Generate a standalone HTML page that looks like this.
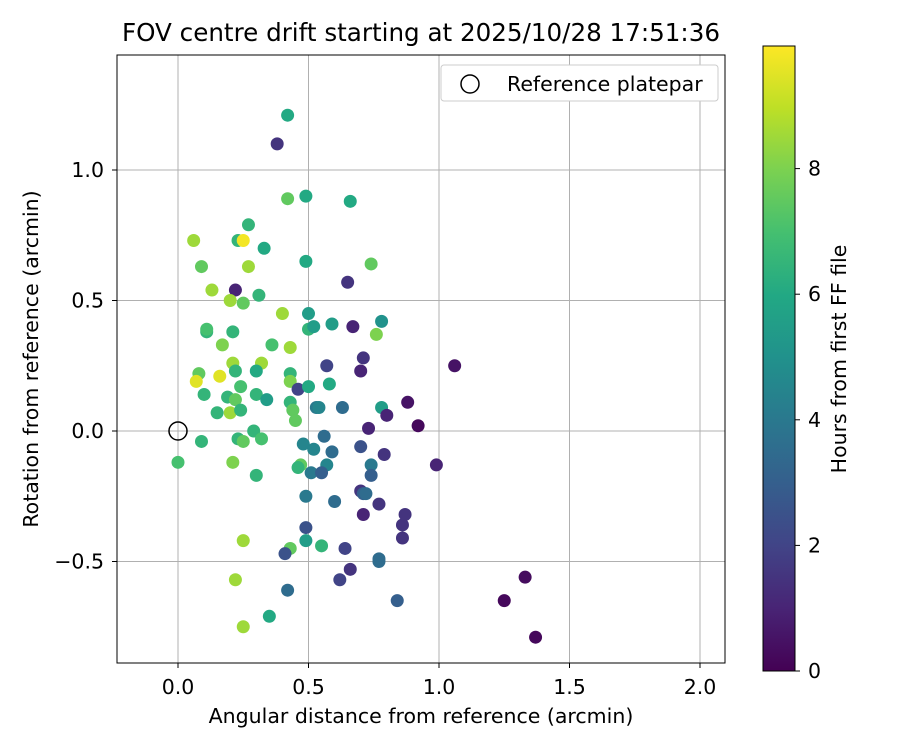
<!DOCTYPE html>
<html><head><meta charset="utf-8"><style>
body{margin:0;background:#fff;}
svg{font-family:"DejaVu Sans","Liberation Sans",sans-serif;}
</style></head><body>
<svg id="chart" width="900" height="750">
<defs>
<linearGradient id="vir" x1="0" y1="1" x2="0" y2="0">
<stop offset="0" stop-color="#440154"/><stop offset="0.1" stop-color="#482475"/><stop offset="0.2" stop-color="#414487"/><stop offset="0.3" stop-color="#355f8d"/><stop offset="0.4" stop-color="#2a788e"/><stop offset="0.5" stop-color="#21918c"/><stop offset="0.6" stop-color="#22a884"/><stop offset="0.7" stop-color="#44bf70"/><stop offset="0.8" stop-color="#7ad151"/><stop offset="0.9" stop-color="#bddf26"/><stop offset="1" stop-color="#fde725"/>
</linearGradient>
<clipPath id="pc"><rect x="117" y="55" width="608" height="608"/></clipPath>
</defs>
<text x="421" y="41" font-size="24.6" text-anchor="middle">FOV centre drift starting at 2025/10/28 17:51:36</text>
<g id="grid"></g>
<g id="pts" clip-path="url(#pc)"></g>
<rect x="117" y="55" width="608" height="608" fill="none" stroke="#000" stroke-width="1"/>
<g id="ticks"></g>
<text x="421" y="723" font-size="20.5" text-anchor="middle">Angular distance from reference (arcmin)</text>
<text transform="translate(38,359) rotate(-90)" font-size="20.5" text-anchor="middle">Rotation from reference (arcmin)</text>
<g>
<rect x="441" y="65" width="277" height="36" rx="3" fill="#fff" stroke="#ccc"/>
<circle cx="470" cy="84" r="9" fill="none" stroke="#000" stroke-width="1.5"/>
<text x="507" y="91" font-size="20.5">Reference platepar</text>
</g>
<rect x="763" y="46" width="32" height="625" fill="url(#vir)" stroke="#000" stroke-width="1"/>
<g id="cbticks"></g>
<text transform="translate(846,359) rotate(-90)" font-size="20.5" text-anchor="middle">Hours from first FF file</text>
</svg>
<script>
const xVals=[0.42,0.38,0.42,0.49,0.66,0.27,0.06,0.23,0.25,0.33,0.09,0.27,0.49,0.74,0.65,0.13,0.22,0.20,0.25,0.31,0.40,0.50,0.11,0.11,0.21,0.50,0.52,0.59,0.67,0.76,0.78,0.17,0.36,0.43,0.71,0.08,0.21,0.32,0.30,0.22,0.57,1.06,0.07,0.16,0.43,0.43,0.70,0.24,0.46,0.50,0.58,0.10,0.19,0.30,0.34,0.22,0.43,0.88,0.53,0.54,0.63,0.78,0.80,0.15,0.20,0.24,0.44,0.45,0.29,0.73,0.92,0.09,0.23,0.25,0.32,0.56,0.48,0.52,0.70,0.79,0.59,0.99,0.00,0.21,0.47,0.46,0.57,0.51,0.55,0.74,0.74,0.30,0.70,0.71,0.72,0.49,0.60,0.77,0.71,0.87,0.49,0.86,0.86,0.49,0.25,0.55,0.43,0.41,0.64,0.77,0.77,0.66,0.22,0.62,1.33,0.42,1.25,0.84,0.35,0.25,1.37];
const yVals=[1.21,1.10,0.89,0.90,0.88,0.79,0.73,0.73,0.73,0.70,0.63,0.63,0.65,0.64,0.57,0.54,0.54,0.50,0.49,0.52,0.45,0.45,0.38,0.39,0.38,0.39,0.40,0.41,0.40,0.37,0.42,0.33,0.33,0.32,0.28,0.22,0.26,0.26,0.23,0.23,0.25,0.25,0.19,0.21,0.22,0.19,0.23,0.17,0.16,0.17,0.18,0.14,0.13,0.14,0.12,0.12,0.11,0.11,0.09,0.09,0.09,0.09,0.06,0.07,0.07,0.08,0.08,0.04,0.00,0.01,0.02,-0.04,-0.03,-0.04,-0.03,-0.02,-0.05,-0.07,-0.06,-0.09,-0.08,-0.13,-0.12,-0.12,-0.13,-0.14,-0.13,-0.16,-0.16,-0.13,-0.17,-0.17,-0.23,-0.24,-0.24,-0.25,-0.27,-0.28,-0.32,-0.32,-0.37,-0.36,-0.41,-0.42,-0.42,-0.44,-0.45,-0.47,-0.45,-0.50,-0.49,-0.53,-0.57,-0.57,-0.56,-0.61,-0.65,-0.65,-0.71,-0.75,-0.79];
const hours=[6,1.5,7.5,6,6,6.5,8.5,6.5,9.8,6,7.5,8.5,6,7.5,1.5,8.5,1,8.5,7.5,6.5,8.5,5.5,6.5,7,6.5,6.5,5.5,5.5,1,8,5,8,7,8.5,1.5,7.5,8.5,8.5,6,6.5,2,0.5,9.5,9.5,6.5,8,1,7,2,6,6,6.5,6.5,6.5,5.5,7.5,6.5,0.5,4,4.5,3.5,5.5,1,6.5,8.5,6.5,7.5,7.5,6.5,1,0.2,6.5,6.5,7.5,7,3.5,4.5,4.5,2.5,1.5,3.5,1,7,8,7.5,6.5,4.5,4,3,4,3,6.5,1.5,3,3.5,4,3.5,1.5,1,1.5,2.5,1.5,1.5,5.5,8.5,6.5,7.5,2.5,2,3.5,3.5,1.5,8.5,2,0.3,3.5,0.2,3,6,8.5,0.2];
const xTicks=[0.0,0.5,1.0,1.5,2.0];
const yTicks=[-0.5,0.0,0.5,1.0];
const yTickLabels=["\u22120.5","0.0","0.5","1.0"];
const cbTicks=[0,2,4,6,8];
const X=v=>178+v*261, Y=v=>431-v*261, C=v=>671-v*62.8;
const stops=[[68,1,84],[72,36,117],[65,68,135],[53,95,141],[42,120,142],[33,145,140],[34,168,132],[68,191,112],[122,209,81],[189,223,38],[253,231,37]];
function vir(h){let t=Math.max(0,Math.min(1,h/9.95))*10,i=Math.min(9,Math.floor(t)),f=t-i;const a=stops[i],b=stops[i+1];return `rgb(${a.map((c,k)=>Math.round(c+(b[k]-c)*f)).join(',')})`;}
const ns="http://www.w3.org/2000/svg";
function mk(tag,at,parent,txt){const e=document.createElementNS(ns,tag);for(const k in at)e.setAttribute(k,at[k]);if(txt!==undefined)e.textContent=txt;document.getElementById(parent).appendChild(e);return e;}
xTicks.forEach(t=>{
 const g=mk('line',{x1:X(t),x2:X(t),y1:55,y2:663,stroke:'#b0b0b0','stroke-width':1},'grid');
 
 
 const tk=mk('line',{x1:X(t),x2:X(t),y1:663,y2:668,stroke:'#000'},'ticks');
 
 
 const l=mk('text',{x:X(t),y:694,'font-size':20.5,'text-anchor':'middle'},'ticks',t.toFixed(1));
 
 
});
yTicks.forEach((t,i)=>{
 const g=mk('line',{x1:117,x2:725,y1:Y(t),y2:Y(t),stroke:'#b0b0b0','stroke-width':1},'grid');
 
 
 const tk=mk('line',{x1:112,x2:117,y1:Y(t),y2:Y(t),stroke:'#000'},'ticks');
 
 
 const l=mk('text',{x:104,y:Y(t)+7,'font-size':20.5,'text-anchor':'end'},'ticks',yTickLabels[i]);
 
 
});
cbTicks.forEach(t=>{
 const tk=mk('line',{x1:795,x2:800,y1:C(t),y2:C(t),stroke:'#000'},'cbticks');
 
 
 const l=mk('text',{x:808,y:C(t)+7,'font-size':20.5},'cbticks',String(t));
 
 
});
xVals.forEach((x,i)=>{
 const p=mk('circle',{cx:X(x),cy:Y(yVals[i]),r:6.5,fill:vir(hours[i])},'pts');
 
 
});
const r=mk('circle',{cx:X(0),cy:Y(0),r:9,fill:'none',stroke:'#000','stroke-width':1.5},'pts');


</script>
</body></html>
